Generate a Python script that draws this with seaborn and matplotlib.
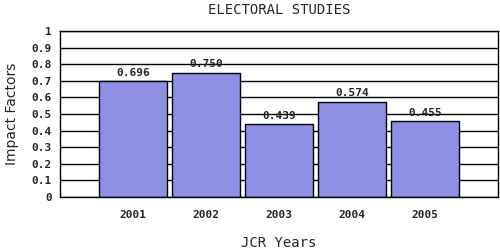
import pandas as pd
import matplotlib.pyplot as plt
import seaborn as sns

years = ["2001", "2002", "2003", "2004", "2005"]
impact_factors = [0.696, 0.750, 0.439, 0.574, 0.455]
value_labels = ["0.696", "0.750", "0.439", "0.574", "0.455"]
y_ticks = [0, 0.1, 0.2, 0.3, 0.4, 0.5, 0.6, 0.7, 0.8, 0.9, 1]
y_tick_labels = ["0", "0.1", "0.2", "0.3", "0.4", "0.5", "0.6", "0.7", "0.8", "0.9", "1"]


def plot_bars():
    """Draw the impact factor bar chart"""
    data = pd.DataFrame({"year": years, "impact": impact_factors})

    sns.set_style("white")
    mono = "DejaVu Sans Mono"

    fig = plt.figure(figsize=(5, 2.5), dpi=100)
    ax = fig.add_axes([0.12, 0.212, 0.876, 0.664])

    sns.barplot(data=data, x="year", y="impact", color="#8f8fe6", saturation=1,
                width=0.92, edgecolor="black", linewidth=1, ax=ax, zorder=2)

    ax.set_xlim(-1, 5)
    ax.set_ylim(0, 1)
    ax.set_yticks(y_ticks)
    ax.set_yticklabels(y_tick_labels, family=mono, fontsize=8, fontweight="bold")
    ax.set_xticks(range(len(years)))
    ax.set_xticklabels(years, family=mono, fontsize=8, fontweight="bold")
    ax.tick_params(axis="x", length=3, width=1, color="black", direction="out", pad=6)
    ax.tick_params(axis="y", length=0, pad=6)

    ax.yaxis.grid(True, color="black", linewidth=1, zorder=0)
    ax.set_axisbelow(True)
    for side in ax.spines.values():
        side.set_color("black")
        side.set_linewidth(1)

    for i, (v, lab) in enumerate(zip(impact_factors, value_labels)):
        ax.text(i, v + 0.02, lab, ha="center", va="bottom", family=mono,
                fontsize=8, fontweight="bold")

    ax.set_title("ELECTORAL STUDIES", family=mono, fontsize=10, pad=12.5)
    ax.set_xlabel("JCR Years", family=mono, fontsize=10, labelpad=12)
    ax.set_ylabel("Impact Factors", family="DejaVu Sans", fontsize=10, labelpad=9)

    fig.savefig("out.png", dpi=100)


def main():
    plot_bars()


if __name__ == "__main__":
    main()
